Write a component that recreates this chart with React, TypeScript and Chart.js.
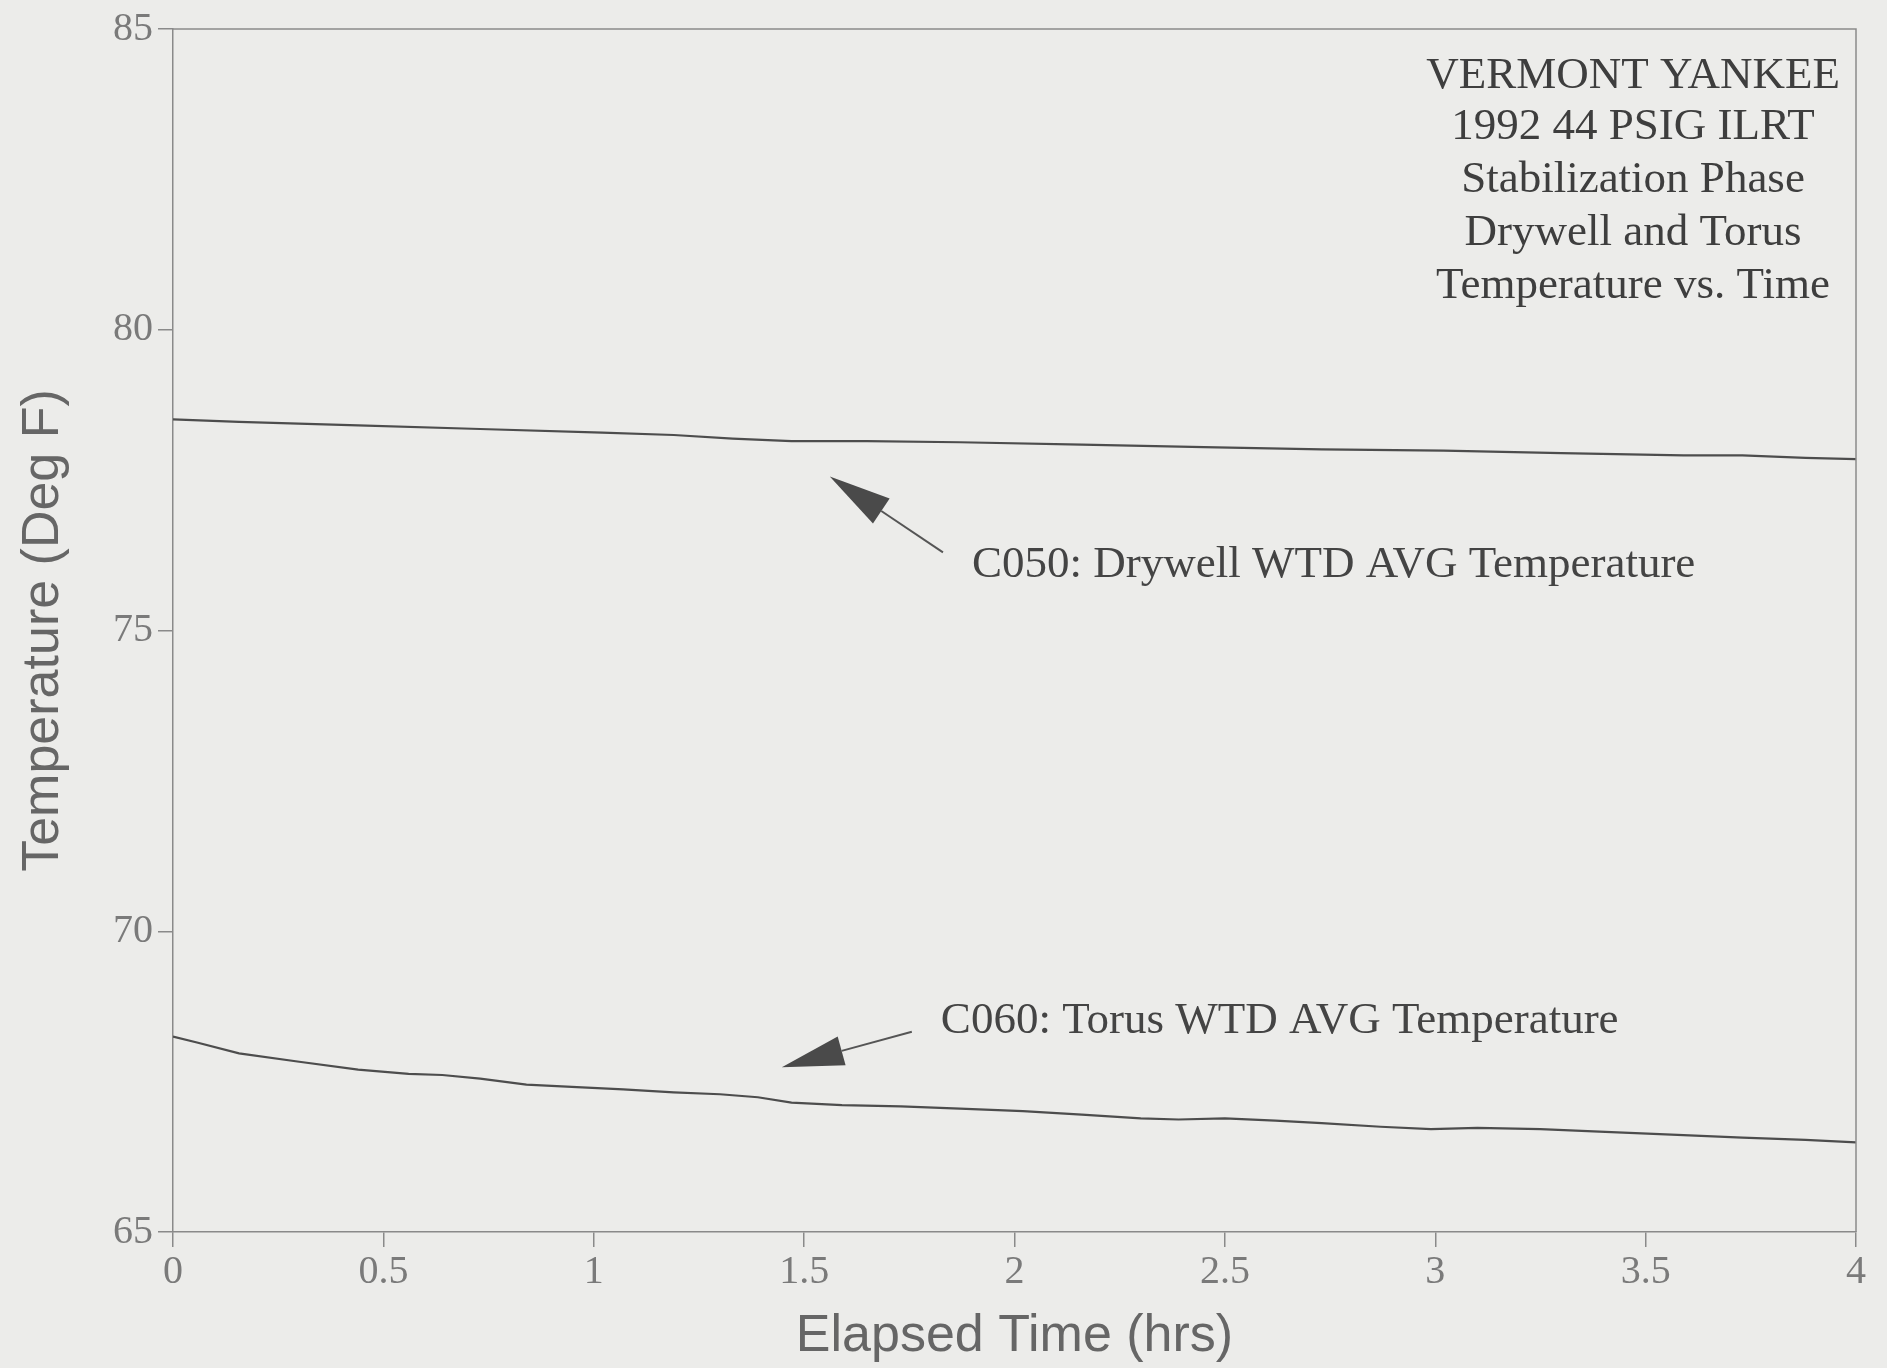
import React, { useEffect, useRef } from 'react';
import { Chart, registerables } from 'chart.js';

Chart.register(...registerables);

// ---- Data (hours, deg F) ----
const drywellTime = [0, 0.157, 0.44, 0.73, 1.02, 1.19, 1.33, 1.47, 1.65, 1.87, 2.16, 2.45, 2.73, 3.02, 3.3, 3.59, 3.73, 3.88, 4.0];
const drywellTemp = [78.51, 78.47, 78.41, 78.35, 78.29, 78.25, 78.19, 78.15, 78.15, 78.13, 78.09, 78.05, 78.01, 77.99, 77.95, 77.91, 77.91, 77.87, 77.85];

const torusTime = [0, 0.057, 0.157, 0.3, 0.44, 0.56, 0.64, 0.73, 0.84, 0.96, 1.07, 1.19, 1.3, 1.39, 1.47, 1.59, 1.73, 1.87, 2.02, 2.16, 2.3, 2.39, 2.5, 2.62, 2.73, 2.87, 2.99, 3.1, 3.25, 3.39, 3.59, 3.73, 3.88, 4.0];
const torusTemp = [68.25, 68.15, 67.97, 67.83, 67.7, 67.63, 67.61, 67.55, 67.45, 67.41, 67.37, 67.32, 67.29, 67.24, 67.15, 67.11, 67.09, 67.05, 67.01, 66.95, 66.89, 66.87, 66.89, 66.85, 66.81, 66.75, 66.71, 66.73, 66.71, 66.67, 66.61, 66.57, 66.53, 66.49];

const xTickValues = [0, 0.5, 1, 1.5, 2, 2.5, 3, 3.5, 4];
const xTickLabels = ['0', '0.5', '1', '1.5', '2', '2.5', '3', '3.5', '4'];
const yTickValues = [65, 70, 75, 80, 85];
const yTickLabels = ['65', '70', '75', '80', '85'];

const titleLines = ['VERMONT YANKEE', '1992 44 PSIG ILRT', 'Stabilization Phase', 'Drywell and Torus', 'Temperature vs. Time'];
const titleX = 3.47;
const titleY = [84.22, 83.36, 82.48, 81.6, 80.73];

const labelTexts = ['C050: Drywell WTD AVG Temperature', 'C060: Torus WTD AVG Temperature'];
const labelX = [1.899, 1.825];
const labelY = [76.09, 68.5];
const arrowTailX = [1.83, 1.756];
const arrowTailY = [76.3, 68.33];
const arrowTipX = [1.561, 1.447];
const arrowTipY = [77.56, 67.74];

const SERIF = '"Liberation Serif", "Times New Roman", serif';
const SANS = '"Liberation Sans", Arial, sans-serif';
const AXIS_COLOR = '#8a8a8a';
const LINE_COLOR = '#4d4d4d';

const overlayPlugin = {
  id: 'overlay',
  afterDraw(chart: any) {
    const { ctx, chartArea, scales } = chart;
    const xs = scales.x;
    const ys = scales.y;
    ctx.save();
    // top & right frame
    ctx.strokeStyle = AXIS_COLOR;
    ctx.lineWidth = 1.5;
    ctx.beginPath();
    ctx.moveTo(chartArea.left, chartArea.top);
    ctx.lineTo(chartArea.right, chartArea.top);
    ctx.lineTo(chartArea.right, chartArea.bottom);
    ctx.stroke();

    // title block
    ctx.fillStyle = '#3e3e3e';
    ctx.font = `45px ${SERIF}`;
    ctx.textAlign = 'center';
    ctx.textBaseline = 'middle';
    titleLines.forEach((t, i) => {
      ctx.fillText(t, xs.getPixelForValue(titleX), ys.getPixelForValue(titleY[i]));
    });

    // labels
    ctx.fillStyle = '#444444';
    ctx.font = `45px ${SERIF}`;
    ctx.textAlign = 'left';
    labelTexts.forEach((t, i) => {
      ctx.fillText(t, xs.getPixelForValue(labelX[i]), ys.getPixelForValue(labelY[i]));
    });

    // arrows
    for (let i = 0; i < arrowTailX.length; i++) {
      const x0 = xs.getPixelForValue(arrowTailX[i]);
      const y0 = ys.getPixelForValue(arrowTailY[i]);
      const x1 = xs.getPixelForValue(arrowTipX[i]);
      const y1 = ys.getPixelForValue(arrowTipY[i]);
      const ang = Math.atan2(y1 - y0, x1 - x0);
      const headLen = 62;
      const headHalf = 15;
      const bx = x1 - headLen * Math.cos(ang);
      const by = y1 - headLen * Math.sin(ang);
      ctx.strokeStyle = '#555555';
      ctx.lineWidth = 2;
      ctx.beginPath();
      ctx.moveTo(x0, y0);
      ctx.lineTo(bx, by);
      ctx.stroke();
      ctx.fillStyle = '#4a4a4a';
      ctx.beginPath();
      ctx.moveTo(x1, y1);
      ctx.lineTo(bx + headHalf * Math.sin(ang), by - headHalf * Math.cos(ang));
      ctx.lineTo(bx - headHalf * Math.sin(ang), by + headHalf * Math.cos(ang));
      ctx.closePath();
      ctx.fill();
    }
    ctx.restore();
  },
};

export default function App() {
  const canvasRef = useRef<HTMLCanvasElement | null>(null);

  useEffect(() => {
    const canvas = canvasRef.current;
    if (!canvas) return;
    const chart = new Chart(canvas, {
      type: 'line',
      data: {
        datasets: [
          {
            label: 'C050: Drywell WTD AVG Temperature',
            data: drywellTime.map((t, i) => ({ x: t, y: drywellTemp[i] })),
            borderColor: LINE_COLOR,
            borderWidth: 2.2,
            pointRadius: 0,
            tension: 0,
            fill: false,
          },
          {
            label: 'C060: Torus WTD AVG Temperature',
            data: torusTime.map((t, i) => ({ x: t, y: torusTemp[i] })),
            borderColor: LINE_COLOR,
            borderWidth: 2.2,
            pointRadius: 0,
            tension: 0,
            fill: false,
          },
        ],
      },
      options: {
        animation: false,
        responsive: false,
        devicePixelRatio: 1,
        layout: { padding: { top: 25, right: 31, left: 0, bottom: 0 } },
        plugins: {
          legend: { display: false },
          tooltip: { enabled: false },
          title: { display: false },
        },
        scales: {
          x: {
            type: 'linear',
            min: 0,
            max: 4,
            afterFit: (s: any) => { s.height = 136; },
            afterBuildTicks: (s: any) => { s.ticks = xTickValues.map((v) => ({ value: v })); },
            ticks: {
              callback: (v: any) => xTickLabels[xTickValues.indexOf(Number(v))] ?? '',
              font: { family: SERIF, size: 40 },
              color: '#7a7a7a',
              padding: 1,
              maxRotation: 0,
            },
            grid: { drawOnChartArea: false, drawTicks: true, tickLength: 15, color: AXIS_COLOR, lineWidth: 1.5 },
            border: { display: true, color: AXIS_COLOR, width: 1.5 },
            title: {
              display: true,
              text: 'Elapsed Time (hrs)',
              font: { family: SANS, size: 52 },
              color: '#666666',
              padding: { top: 0, bottom: 0 },
            },
          },
          y: {
            type: 'linear',
            min: 65,
            max: 85,
            afterFit: (s: any) => { s.width = 173; },
            afterBuildTicks: (s: any) => { s.ticks = yTickValues.map((v) => ({ value: v })); },
            ticks: {
              callback: (v: any) => yTickLabels[yTickValues.indexOf(Number(v))] ?? '',
              font: { family: SERIF, size: 40 },
              color: '#7a7a7a',
              padding: 5,
            },
            grid: { drawOnChartArea: false, drawTicks: true, tickLength: 15, color: AXIS_COLOR, lineWidth: 1.5 },
            border: { display: true, color: AXIS_COLOR, width: 1.5 },
            title: {
              display: true,
              text: 'Temperature (Deg F)',
              font: { family: SANS, size: 52 },
              color: '#666666',
              padding: { top: 12, bottom: 0 },
            },
          },
        },
      },
      plugins: [overlayPlugin],
    });
    return () => chart.destroy();
  }, []);

  return (
    <div style={{ position: 'absolute', left: 0, top: 0, width: 1887, height: 1368, background: '#ececea' }}>
      <canvas ref={canvasRef} width={1887} height={1368} style={{ display: 'block' }} />
    </div>
  );
}
